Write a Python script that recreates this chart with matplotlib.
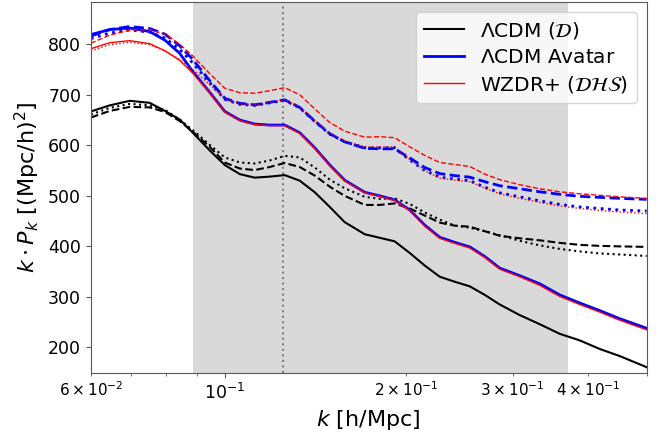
import matplotlib
matplotlib.use('Agg')
import matplotlib.pyplot as plt

# k grid [h/Mpc], values of k*P_k
k = [0.060, 0.0645, 0.0696, 0.0751, 0.0796, 0.0842, 0.0885, 0.0944, 0.100, 0.1059,
     0.1121, 0.1187, 0.1257, 0.1331, 0.141, 0.1493, 0.158, 0.1706, 0.1806, 0.1912,
     0.2025, 0.2145, 0.2271, 0.2405, 0.2546, 0.2697, 0.2855, 0.3082, 0.3326, 0.3589,
     0.3874, 0.4181, 0.4512, 0.50]

lcdm_solid = [667, 679, 688, 684, 668, 651, 625, 590, 561, 543, 536, 538, 541, 530, 507, 478, 448,
              424, 417, 410, 387, 362, 340, 330, 321, 304, 285, 264, 246, 227, 214, 197, 183, 161]
lcdm_dashed = [655, 668, 676, 675, 666, 648, 627, 597, 566, 554, 551, 557, 565, 557, 540, 518, 500,
               482, 482, 485, 475, 461, 447, 441, 439, 430, 421, 416, 412, 407, 403, 401, 400, 399]
lcdm_dotted = [661, 674, 682, 679, 670, 651, 630, 601, 576, 566, 564, 570, 579, 576, 556, 532, 515,
               498, 494, 495, 484, 467, 453, 441, 437, 430, 422, 411, 402, 395, 390, 386, 384, 381]

avatar_solid = [819, 829, 832, 825, 808, 782, 746, 705, 667, 650, 642, 640, 640, 625, 595, 561, 531,
                507, 500, 492, 472, 442, 418, 408, 399, 380, 357, 342, 326, 304, 288, 273, 257, 238]
avatar_dashed = [816, 829, 835, 831, 820, 797, 770, 728, 693, 683, 680, 685, 690, 675, 648, 623, 607,
                 594, 593, 593, 575, 556, 544, 540, 537, 528, 520, 514, 508, 503, 499, 497, 495, 493]
avatar_dotted = [811, 822, 828, 824, 812, 790, 763, 724, 691, 681, 679, 684, 689, 674, 647, 622, 607,
                 595, 595, 595, 571, 550, 537, 533, 530, 517, 506, 498, 490, 483, 478, 475, 472, 470]

wzdr_solid = [791, 803, 807, 801, 787, 768, 743, 704, 666, 649, 641, 639, 639, 624, 594, 560, 530,
              506, 499, 491, 471, 440, 416, 406, 397, 378, 355, 340, 323, 301, 285, 270, 254, 235]
wzdr_dashed = [802, 818, 828, 829, 820, 800, 777, 742, 713, 704, 703, 708, 714, 700, 672, 645, 628,
               616, 617, 615, 597, 580, 566, 562, 558, 543, 532, 522, 514, 508, 504, 501, 498, 495]
wzdr_dotted = [787, 799, 804, 799, 787, 770, 750, 720, 692, 682, 680, 685, 690, 676, 649, 624, 609,
               597, 597, 597, 572, 550, 535, 531, 528, 515, 504, 495, 487, 480, 475, 471, 468, 465]

labels = [r'$\Lambda$CDM ($\mathcal{D}$)', r'$\Lambda$CDM Avatar', r'WZDR+ ($\mathcal{DHS}$)']

fig = plt.figure(figsize=(6.68, 4.38), dpi=100)
ax = fig.add_axes([0.136, 0.149, 0.832, 0.847])

ax.axvspan(0.0885, 0.37, color='0.85', lw=0, zorder=0)
ax.axvline(0.125, color='gray', ls=':', lw=1.5, zorder=1)

ax.plot(k, lcdm_solid, color='k', lw=1.5, label=labels[0])
ax.plot(k, lcdm_dashed, color='k', lw=1.5, ls='--')
ax.plot(k, lcdm_dotted, color='k', lw=1.5, ls=':')

ax.plot(k, avatar_solid, color='b', lw=2, label=labels[1])
ax.plot(k, avatar_dashed, color='b', lw=2, ls='--')
ax.plot(k, avatar_dotted, color='b', lw=2, ls=':')

ax.plot(k, wzdr_solid, color='r', lw=1, label=labels[2])
ax.plot(k, wzdr_dashed, color='r', lw=1, ls='--')
ax.plot(k, wzdr_dotted, color='r', lw=1, ls=':')

ax.set_xscale('log')
ax.set_xlim(0.06, 0.5)
ax.set_ylim(150, 884)

ax.set_xlabel(r'$k$ [h/Mpc]', fontsize=16)
ax.set_ylabel(r'$k \cdot P_k$ [(Mpc/h)$^2$]', fontsize=16)
ax.tick_params(axis='y', labelsize=12.5)
ax.tick_params(axis='x', which='major', labelsize=12.5)
ax.tick_params(axis='x', which='minor', labelsize=11)

for sp in ax.spines.values():
    sp.set_color('0.35')
ax.tick_params(which='both', color='0.35')

ax.legend(loc='upper right', fontsize=14.5, labelspacing=0.35)

fig.savefig('out.png', dpi=100)
